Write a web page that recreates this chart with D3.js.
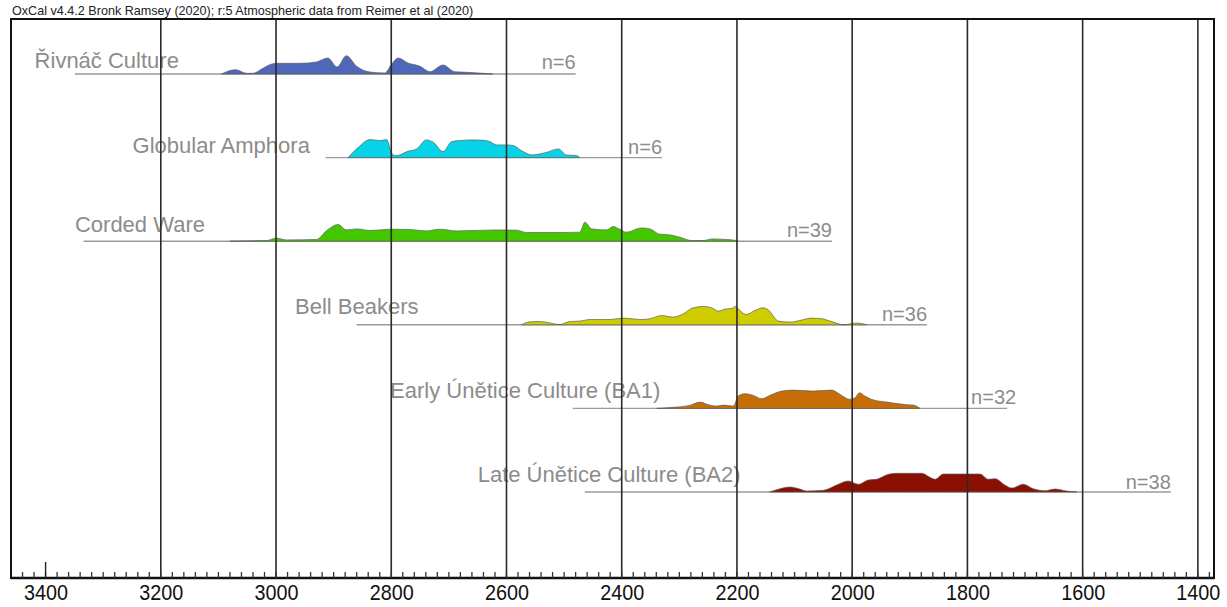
<!DOCTYPE html>
<html>
<head>
<meta charset="utf-8">
<script src="https://cdn.jsdelivr.net/npm/d3@7"></script>
<style>
  html, body { margin: 0; padding: 0; background: #fff; }
  svg { display: block; }
</style>
</head>
<body>
<svg id="chart" width="1227" height="607"></svg>
<script>
// ---------- DATA ----------
const titleText = "OxCal v4.4.2 Bronk Ramsey (2020); r:5 Atmospheric data from Reimer et al (2020)";
const cultures = ["Řivnáč Culture", "Globular Amphora", "Corded Ware", "Bell Beakers",
                  "Early Únětice Culture (BA1)", "Late Únětice Culture (BA2)"];
const sampleCounts = [6, 6, 39, 36, 32, 38];
// modelled range of each phase (cal BC): [start, end]
const phaseRanges = [[3349, 2480], [2914, 2330], [3334, 2035], [2860, 1870], [2485, 1731], [2464, 1447]];
// relative probability densities: [year BC, density]
const rivnac = [[3095,0],[3070,4.3],[3051,0.7],[3040,0.7],[3025,5],[3011,9.3],[2999,10.7],[2959,10.7],[2930,12],[2910,16],[2894,7],[2878,18.3],[2860,7.7],[2837,2],[2811,1],[2800,9.3],[2788,16],[2771,11],[2750,7.7],[2733,2.3],[2710,9],[2690,2.3],[2669,1.7],[2641,0.7],[2624,0]];
const globular = [[2875,0],[2857,10.3],[2837,18],[2820,17],[2808,18],[2800,5.3],[2794,2],[2785,2.7],[2773,6],[2756,8.7],[2739,17.7],[2727,15.3],[2710,6],[2695,16],[2681,17],[2663,17.7],[2640,17.3],[2629,16],[2617,12.7],[2600,12.7],[2588,12],[2574,7],[2556,2.7],[2530,5.3],[2510,8.7],[2496,2.7],[2478,2],[2473,0]];
const corded = [[3080,0],[3016,0.7],[2999,3],[2982,1.3],[2930,1.7],[2912,10.7],[2892,16.7],[2878,11.3],[2860,12.3],[2837,10.7],[2802,12],[2768,11.7],[2739,10.3],[2716,12],[2687,10.3],[2617,11.3],[2582,11],[2565,8.7],[2502,8.7],[2473,9],[2464,19],[2452,12.3],[2426,11.3],[2415,14.7],[2403,11.7],[2392,9],[2366,13.3],[2351,12.3],[2334,7],[2316,6.3],[2299,4],[2279,0.7],[2259,0.7],[2241,2.3],[2218,1.7],[2204,1],[2198,0]];
const bellBeakers = [[2574,0],[2559,3],[2542,3.3],[2507,0.3],[2490,3.3],[2473,3.7],[2455,5.3],[2420,5.3],[2397,6.7],[2368,5.3],[2351,6],[2331,9.3],[2311,7.7],[2293,11],[2276,17],[2258,18.3],[2244,17],[2232,13.7],[2221,15.7],[2209,16.3],[2203,18.3],[2198,16],[2184,10.3],[2169,14.3],[2154,17],[2146,15],[2128,3.7],[2108,2.7],[2091,4.3],[2070,6.7],[2050,5.7],[2033,2.7],[2015,0],[1992,1.7],[1981,1],[1975,0]];
const earlyUnetice = [[2339,0],[2305,1.3],[2282,3],[2264,6.3],[2250,3.7],[2235,2.3],[2224,3.3],[2206,2.3],[2198,12.3],[2186,14.7],[2172,13],[2157,9.7],[2143,13],[2122,17.3],[2102,18.3],[2068,17.3],[2036,18.3],[2021,14],[2004,9],[1995,10.7],[1987,15.7],[1978,12.3],[1966,9],[1940,6.3],[1905,3.7],[1894,3.3],[1882,0]];
const lateUnetice = [[2143,0],[2125,3.3],[2108,5],[2091,3],[2079,1],[2050,1.7],[2027,7],[2007,11],[1989,7.7],[1972,12],[1958,12.7],[1937,17.7],[1923,18.7],[1879,18.7],[1865,14.7],[1856,12.7],[1842,18],[1825,18],[1796,18],[1778,18],[1764,12.7],[1752,13.3],[1735,7],[1723,4],[1703,7.7],[1686,3.3],[1665,1.3],[1648,3],[1628,1],[1610,0]];
const densities = [rivnac, globular, corded, bellBeakers, earlyUnetice, lateUnetice];
const tickLabels = [3400, 3200, 3000, 2800, 2600, 2400, 2200, 2000, 1800, 1600, 1400];
const gridYears = [3200, 3000, 2800, 2600, 2400, 2200, 2000, 1800, 1600, 1400];

// ---------- STYLE / LAYOUT ----------
const colors = ["#4f67b8", "#05d3e8", "#45c700", "#cfcc00", "#c56d06", "#8a1102"];
const labelStartYear = [3419, 3249, 3349, 2967, 2802, 2650];
const labelRaise = [6, 5, 9.5, 10.5, 10.5, 10.5];
const nRaise = [5, 4, 4.5, 3.5, 4.5, 3.5];
const nShift = [0, 0, 0, 0, 9, 0];

const frame = {left: 11, top: 19, right: 1214, bottom: 578};
const svg = d3.select("#chart");
const font = "'Liberation Sans', Arial, sans-serif";

const x = d3.scaleLinear().domain([3460, 1372]).range([frame.left, frame.right]);
const row = d3.scalePoint().domain(cultures).range([74, 492]);
const h = d3.scaleLinear().domain([0, 20]).range([0, 20]);

// title
svg.append("text")
  .attr("x", 12).attr("y", 15)
  .attr("font-family", font)
  .attr("font-size", 12.6)
  .attr("fill", "#222")
  .text(titleText);

svg.append("rect")
  .attr("x", frame.left).attr("y", frame.top)
  .attr("width", frame.right - frame.left).attr("height", frame.bottom - frame.top)
  .attr("fill", "#fff");

cultures.forEach((name, i) => {
  const y0 = row(name);
  const g = svg.append("g");
  g.append("line")
    .attr("x1", x(phaseRanges[i][0])).attr("x2", x(phaseRanges[i][1]))
    .attr("y1", y0).attr("y2", y0)
    .attr("stroke", "#9a9a9a").attr("stroke-width", 1.4);
  const area = d3.area()
    .x(d => x(d[0]))
    .y0(y0)
    .y1(d => y0 - h(d[1]))
    .curve(d3.curveMonotoneX);
  g.append("path")
    .datum(densities[i])
    .attr("d", area)
    .attr("fill", colors[i])
    .attr("stroke", "#5a5a5a").attr("stroke-opacity", 0.75)
    .attr("stroke-width", 0.9);
  g.append("text")
    .attr("x", x(labelStartYear[i])).attr("y", y0 - labelRaise[i])
    .attr("font-family", font).attr("font-size", 22)
    .attr("fill", "#8c8c8c")
    .text(name);
  g.append("text")
    .attr("x", x(phaseRanges[i][1]) + nShift[i]).attr("y", y0 - nRaise[i])
    .attr("text-anchor", "end")
    .attr("font-family", font).attr("font-size", 20)
    .attr("fill", "#8c8c8c")
    .text("n=" + sampleCounts[i]);
});

// gridlines
svg.append("g").selectAll("line").data(gridYears).join("line")
  .attr("x1", d => x(d)).attr("x2", d => x(d))
  .attr("y1", frame.top).attr("y2", frame.bottom)
  .attr("stroke", "#2a2a2a").attr("stroke-width", 1.6);

// frame
svg.append("rect")
  .attr("x", frame.left).attr("y", frame.top)
  .attr("width", frame.right - frame.left).attr("height", frame.bottom - frame.top)
  .attr("fill", "none").attr("stroke", "#111").attr("stroke-width", 2);
svg.append("line")
  .attr("x1", frame.left).attr("x2", frame.right)
  .attr("y1", frame.bottom).attr("y2", frame.bottom)
  .attr("stroke", "#111").attr("stroke-width", 2.6);

// minor ticks (every 20 years)
const minor = d3.range(3440, 1372, -20);
svg.append("g").selectAll("line").data(minor).join("line")
  .attr("x1", d => x(d)).attr("x2", d => x(d))
  .attr("y1", frame.bottom).attr("y2", frame.bottom - 6)
  .attr("stroke", "#333").attr("stroke-width", 1.3);
svg.append("line")
  .attr("x1", x(3400)).attr("x2", x(3400))
  .attr("y1", frame.bottom).attr("y2", frame.bottom - 16)
  .attr("stroke", "#222").attr("stroke-width", 1.4);

// axis labels
const axis = d3.axisBottom(x).tickValues(tickLabels).tickSize(0).tickPadding(0).tickFormat(d3.format("d"));
const ax = svg.append("g").attr("transform", `translate(0,${frame.bottom})`).call(axis);
ax.select(".domain").remove();
ax.selectAll(".tick line").remove();
ax.selectAll(".tick text")
  .attr("x", 0).attr("y", 0).attr("dy", 0)
  .attr("transform", "translate(0,22) scale(0.9,1)")
  .attr("font-family", "'Liberation Sans Narrow', 'Liberation Sans', Arial, sans-serif")
  .attr("font-size", 22)
  .attr("fill", "#111");
</script>
</body>
</html>
